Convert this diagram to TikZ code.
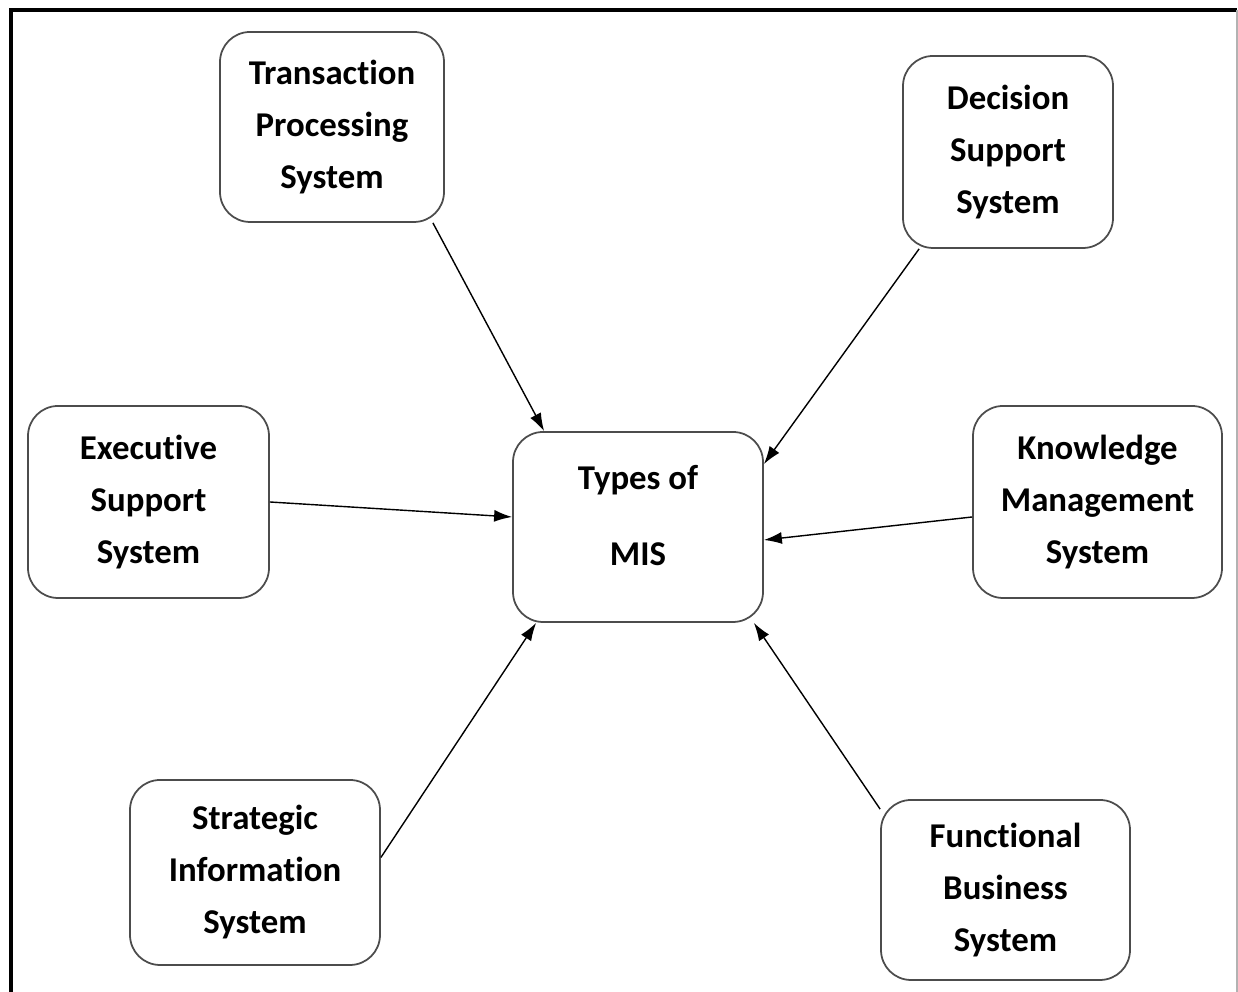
\documentclass[tikz,border=0pt]{standalone}
\usepackage{fontspec}
\setmainfont[Ligatures=NoCommon]{Carlito}
\usetikzlibrary{arrows.meta}

\tikzset{
  sysbox/.style={draw=black!70, line width=1pt, rounded corners=0.6cm,
    align=center, font=\bfseries\fontsize{19.8}{29.6}\selectfont},
  feed/.style={-{Latex[length=0.36cm,width=0.24cm]}, line width=0.8pt}
}

\begin{document}
\begin{tikzpicture}
\useasboundingbox (0,0) rectangle (24.76,19.84);
% frame
\draw[line width=2pt] (0.22,0) -- (0.22,19.64) -- (24.74,19.64);
\draw[black!30, line width=0.6pt] (24.74,19.64) -- (24.74,0);

% centre
\node[sysbox, minimum width=5cm, minimum height=3.8cm] (mis) at (12.76,9.30)
  {Types of\\[0.48cm]MIS\rule[-0.48cm]{0pt}{0.48cm}};

% the six kinds
\node[sysbox, minimum width=4.48cm, minimum height=3.8cm] (tps) at (6.64,17.30) {Transaction\\Processing\\System};
\node[sysbox, minimum width=4.2cm, minimum height=3.84cm] (dss) at (20.16,16.80) {Decision\\Support\\System};
\node[sysbox, minimum width=4.82cm, minimum height=3.84cm] (ess) at (2.97,9.80) {Executive\\Support\\System};
\node[sysbox, minimum width=4.98cm, minimum height=3.84cm] (kms) at (21.95,9.80) {Knowledge\\Management\\System};
\node[sysbox, minimum width=5cm, minimum height=3.7cm] (sis) at (5.10,2.39) {Strategic\\Information\\System};
\node[sysbox, minimum width=4.98cm, minimum height=3.6cm] (fbs) at (20.11,2.04) {Functional\\Business\\System};

% arrows into the centre
\draw[feed] ([xshift=-0.24cm]tps.south east) -- ([xshift=0.64cm]mis.north west);
\draw[feed] ([xshift=0.34cm]dss.south west) -- ([yshift=-0.66cm]mis.north east);
\draw[feed] (ess.east) -- ([yshift=0.2cm]mis.west);
\draw[feed] ([yshift=-0.3cm]kms.west) -- ([yshift=-0.26cm]mis.east);
\draw[feed] ([yshift=0.3cm]sis.east) -- ([xshift=0.48cm]mis.south west);
\draw[feed] ([yshift=-0.2cm]fbs.north west) -- ([xshift=-0.2cm]mis.south east);
\end{tikzpicture}
\end{document}
